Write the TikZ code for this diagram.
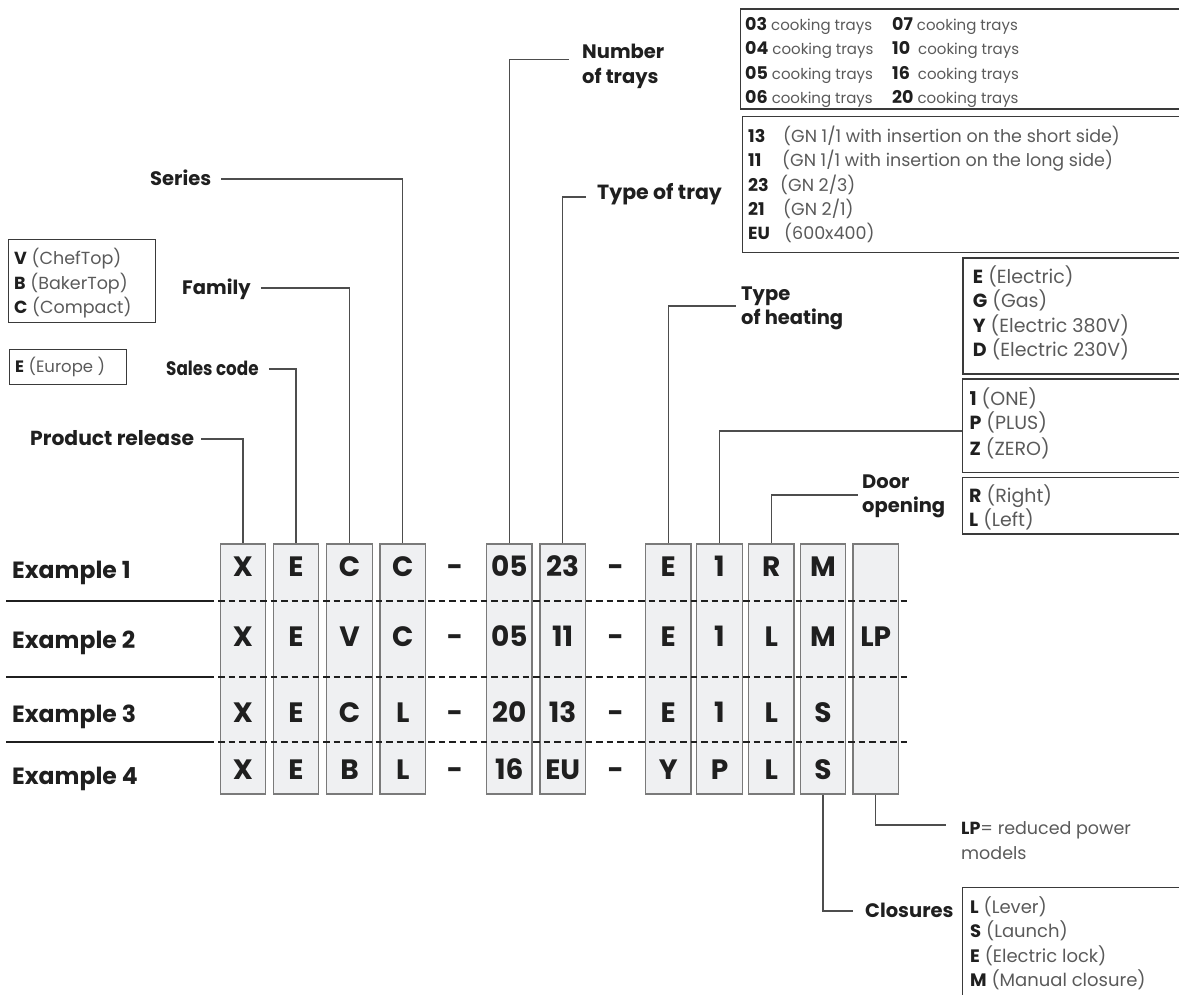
\documentclass[tikz,border=0pt]{standalone}
\usepackage{fontspec}
\setmainfont{Poppins}
\definecolor{ink}{HTML}{1F1F1F}
\definecolor{boxfill}{HTML}{EFF0F2}
\definecolor{boxline}{HTML}{7A7A7A}
\definecolor{frameline}{HTML}{3A3A3A}
\definecolor{connline}{HTML}{4D4D4D}
\definecolor{legtext}{HTML}{5A5A5A}
\newcommand\legcode[1]{{\color{ink}\bfseries #1}}
\begin{document}
\begin{tikzpicture}[x=1pt,y=-1pt,
  col/.style={draw=boxline, fill=boxfill, line width=1.3pt, minimum width=45.5pt, minimum height=250pt, inner sep=0pt},
  code/.style={font=\bfseries\fontsize{28}{30}\selectfont, text=ink, inner sep=0pt, text height=19.6pt, text depth=0pt},
  lab/.style={font=\bfseries\fontsize{19.5}{22}\selectfont, text=ink, inner sep=0pt, text height=13.6pt, text depth=0pt, anchor=west},
  exlab/.style={font=\bfseries\fontsize{23.5}{26}\selectfont, text=ink, inner sep=0pt, text height=16.4pt, text depth=0pt, anchor=west},
  leg/.style={font=\fontsize{19}{21}\selectfont, text=legtext, inner sep=0pt, text height=13.3pt, text depth=0pt, anchor=west},
  legB/.style={leg, font=\fontsize{17.5}{20}\selectfont, text height=12.2pt},
  legV/.style={leg, font=\fontsize{17.5}{20}\selectfont, text height=12.2pt},
  legS/.style={leg, font=\fontsize{16.5}{19}\selectfont, text height=11.5pt},
  legL/.style={leg, font=\fontsize{18}{20}\selectfont, text height=12.6pt},
  legA/.style={font=\fontsize{15}{17}\selectfont, text=legtext, inner sep=0pt, text height=12pt, text depth=0pt, anchor=west},
  frame/.style={draw=frameline, line width=1.3pt, inner sep=0pt, anchor=north west},
  conn/.style={draw=connline, line width=1.3pt},
  sep/.style={draw=ink, line width=1.8pt},
  dsep/.style={draw=ink, line width=1.8pt, dash pattern=on 6.5pt off 4pt}
]
\useasboundingbox (0,0) rectangle (1179,995);
\clip (0,0) rectangle (1179,995);

% code columns
\foreach \n/\x in {1/243,2/296,3/349.5,4/402.7,5/509.3,6/562.7,7/668.2,8/719.5,9/771.3,10/823,11/875.8}
  \node[col] (k\n) at (\x,669) {};

% row separators
\foreach \y in {601,676.7,742} {
  \draw[sep] (6,\y) -- (214,\y);
  \draw[dsep] (218,\y) -- (910,\y);
}

% example labels
\node[exlab] (ex1) at (12,570) {Example 1};
\node[exlab] (ex2) at (12,640) {Example 2};
\node[exlab] (ex3) at (12,714.7) {Example 3};
\node[exlab] (ex4) at (12,776) {Example 4};

% codes
\foreach \x/\t [count=\i] in {243/X,296/E,349.5/C,402.7/C,455/-,509.3/05,562.7/23,615.7/-,668.2/E,719.5/1,771.3/R,823/M}
  \node[code] (ra\i) at (\x,567) {\t};
\foreach \x/\t [count=\i] in {243/X,296/E,349.5/V,402.7/C,455/-,509.3/05,562.7/11,615.7/-,668.2/E,719.5/1,771.3/L,823/M,875.8/LP}
  \node[code] (rb\i) at (\x,637) {\t};
\foreach \x/\t [count=\i] in {243/X,296/E,349.5/C,402.7/L,455/-,509.3/20,562.7/13,615.7/-,668.2/E,719.5/1,771.3/L,823/S}
  \node[code] (rc\i) at (\x,713) {\t};
\foreach \x/\t [count=\i] in {243/X,296/E,349.5/B,402.7/L,455/-,509.3/16,562.7/EU,615.7/-,668.2/Y,719.5/P,771.3/L,823/S}
  \node[code] (rd\i) at (\x,770) {\t};

% left labels
\node[lab] (series) at (150,179) {Series};
\node[lab] (family) at (182,288) {Family};
\node[lab] (sales) at (166,369) {\scalebox{0.86}[1]{Sales code}};
\node[lab] (release) at (30,439) {\fontsize{20.3}{22}\selectfont Product release};
\draw[conn] ([xshift=10pt]series.east) -| (k4.north);
\draw[conn] ([xshift=10pt]family.east) -| (k3.north);
\draw[conn] ([xshift=10pt]sales.east) -| (k2.north);
\draw[conn] ([xshift=7pt]release.east) -| (k1.north);

% top labels
\node[lab] (num1) at (582,52) {Number};
\node[lab] (num2) at (582,77) {of trays};
\coordinate (cNum) at (569,59.3);
\draw[conn] (k5.north) |- (cNum);
\node[lab] (ttray) at (597,193) {\fontsize{20.5}{22}\selectfont Type of tray};
\coordinate (cTray) at (585.7,197);
\draw[conn] (k6.north) |- (cTray);
\node[lab] (heat1) at (741,294) {Type};
\node[lab] (heat2) at (741,318) {of heating};
\coordinate (cHeat) at (735.7,306);
\draw[conn] (k7.north) |- (cHeat);
\node[lab] (door1) at (862,482) {Door};
\node[lab] (door2) at (862,506) {opening};
\coordinate (cDoor) at (858.3,495);
\draw[conn] (k9.north) |- (cDoor);

% legend frames
\node[frame, minimum width=460pt, minimum height=100pt] (fA) at (740,8.3) {};
\node[frame, minimum width=460pt, minimum height=136.3pt] (fB) at (741.7,115.7) {};
\node[frame, minimum width=240pt, minimum height=116pt] (fC) at (962.3,257.3) {};
\node[frame, minimum width=240pt, minimum height=93.4pt] (fD) at (961.7,378.3) {};
\node[frame, minimum width=240pt, minimum height=56.6pt] (fE) at (961.7,476.7) {};
\node[frame, minimum width=147pt, minimum height=83pt] (fV) at (8,239) {};
\node[frame, minimum width=116.7pt, minimum height=35pt] (fEu) at (9,349) {};
\node[frame, minimum width=240pt, minimum height=200pt] (fL) at (961.7,886.7) {};

% power connector
\coordinate (cOne) at (962,431);
\draw[conn] (k8.north) |- (cOne);

% legend A
\node[legA] (a1) at (745,25) {\makebox[147pt][l]{\legcode{\fontsize{17.5}{18}\selectfont 03} cooking trays}\legcode{\fontsize{17.5}{18}\selectfont 07} cooking trays};
\node[legA] (a2) at (745,48.3) {\makebox[147pt][l]{\legcode{\fontsize{17.5}{18}\selectfont 04} cooking trays}\legcode{\fontsize{17.5}{18}\selectfont 10}\ \ cooking trays};
\node[legA] (a3) at (745,73.3) {\makebox[147pt][l]{\legcode{\fontsize{17.5}{18}\selectfont 05} cooking trays}\legcode{\fontsize{17.5}{18}\selectfont 16}\ \ cooking trays};
\node[legA] (a4) at (745,97.3) {\makebox[147pt][l]{\legcode{\fontsize{17.5}{18}\selectfont 06} cooking trays}\legcode{\fontsize{17.5}{18}\selectfont 20} cooking trays};

% legend B
\node[legB] (b1) at (748,136.7) {\makebox[35pt][l]{\legcode{13}}(GN 1/1 with insertion on the short side)};
\node[legB] (b2) at (748,160.7) {\makebox[34pt][l]{\legcode{11}}(GN 1/1 with insertion on the long side)};
\node[legB] (b3) at (748,185) {\makebox[32pt][l]{\legcode{23}}(GN 2/3)};
\node[legB] (b4) at (748,209) {\makebox[35pt][l]{\legcode{21}}(GN 2/1)};
\node[legB] (b5) at (748,233.3) {\makebox[36pt][l]{\legcode{EU}}(600x400)};

% legend C
\node[leg] (c1) at (972.7,276.7) {\legcode{E} (Electric)};
\node[leg] (c2) at (972.7,301) {\legcode{G} (Gas)};
\node[leg] (c3) at (972.7,326) {\legcode{Y} (Electric 380V)};
\node[leg] (c4) at (972.7,350) {\legcode{D} (Electric 230V)};

% legend D
\node[leg] (d1) at (969.3,399) {\legcode{1} (ONE)};
\node[leg] (d2) at (969.3,422.7) {\legcode{P} (PLUS)};
\node[leg] (d3) at (969.3,449) {\legcode{Z} (ZERO)};

% legend E
\node[leg] (e1) at (969,496) {\legcode{R} (Right)};
\node[leg] (e2) at (969,520) {\legcode{L} (Left)};

% legend V and Europe
\node[legV] (v1) at (14,258) {\legcode{V} (ChefTop)};
\node[legV] (v2) at (14,283) {\legcode{B} (BakerTop)};
\node[legV] (v3) at (14,307) {\legcode{C} (Compact)};
\node[legS] (eu1) at (15,367) {\legcode{E} (Europe )};

% LP and closures
\node[legV] (lp1) at (961,828.3) {\legcode{LP}= reduced power};
\node[legV] (lp2) at (961,853.3) {models};
\coordinate (cLP) at (946,825);
\draw[conn] (k11.south) |- (cLP);
\node[lab] (clos) at (865,911) {Closures};
\draw[conn] (k10.south) |- ([xshift=-12pt]clos.west);
\node[legL] (l1) at (970,906.7) {\legcode{L} (Lever)};
\node[legL] (l2) at (970,930.7) {\legcode{S} (Launch)};
\node[legL] (l3) at (970,956) {\legcode{E} (Electric lock)};
\node[legL] (l4) at (970,980) {\legcode{M} (Manual closure)};
\end{tikzpicture}
\end{document}
